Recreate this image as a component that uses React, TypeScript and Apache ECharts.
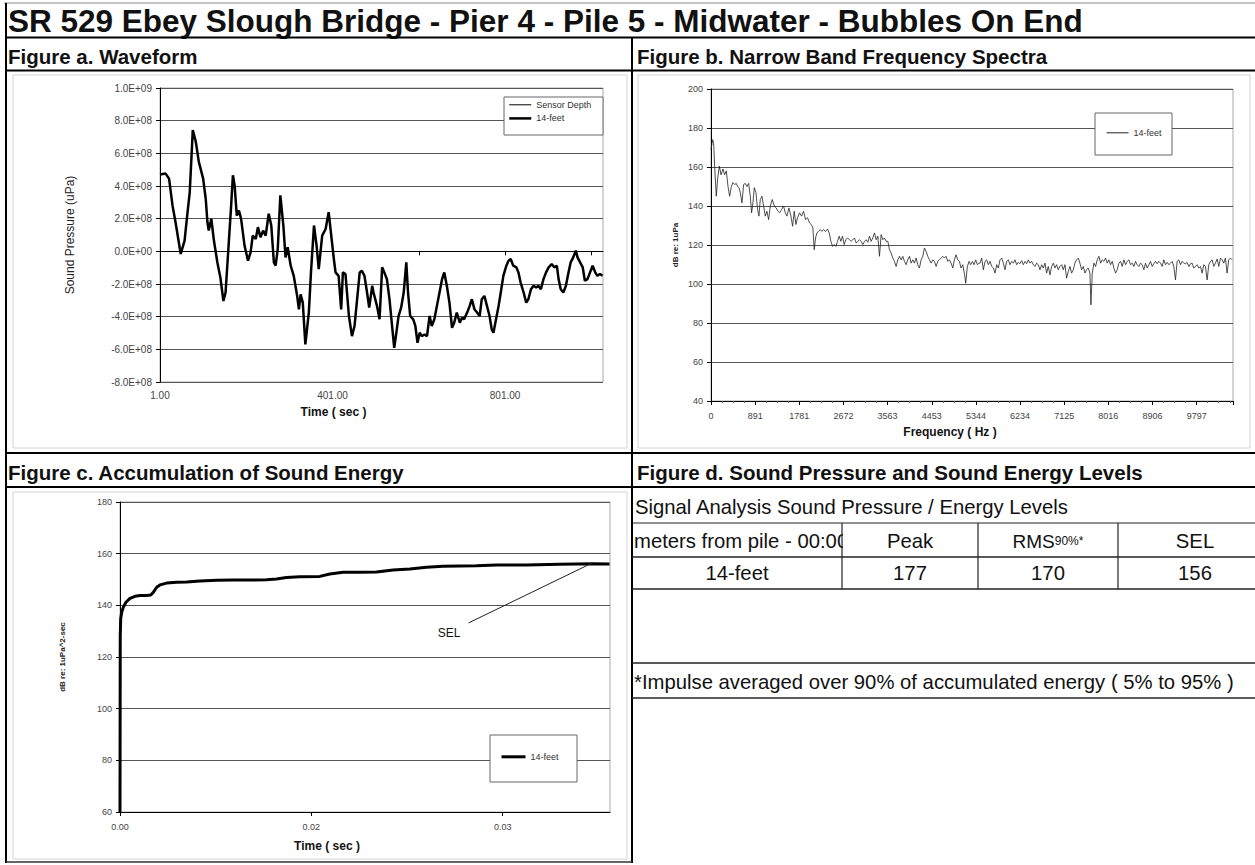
import React, { useEffect, useRef } from 'react';
import * as echarts from 'echarts';

// ---------- Figure a: waveform (sample index, pressure in units of 1E+08 uPa) ----------
const waveSample = [1,14,22,30,37,49,58,64,70,77,84,91,101,107,111,114,120,126,134,141,148,153,158,165,170,174,179,184,189,197,205,211,216,223,228,234,240,246,253,259,265,269,274,280,287,292,297,304,311,319,323,327,332,338,346,351,358,364,369,377,385,392,
  404,408,415,421,425,431,439,446,452,458,464,469,475,481,486,493,496,504,510,516,521,527,533,539,544,549,554,560,566,572,576,581,588,593,598,603,608,614,620,626,631,637,643,649,655,660,666,672,678,683,689,696,701,706,713,719,724,730,736,742,747,753,759,765,770,774,780,786,791,797,804,809,814,820,827,832,837,844,850,855,861,867,873,878,884,890,896,902,909,915,921,925,930,936,942,948,953,959,965,969,975,981,986,992,998,1004,1010,1015,1021,1027];
const waveValueE8 = [4.70,4.76,4.45,2.81,1.78,-0.16,0.66,2.19,3.63,7.42,6.71,5.48,4.45,3.22,1.78,1.27,1.99,0.66,-0.68,-1.60,-3.04,-2.52,-0.47,2.40,4.66,4.04,2.19,2.50,1.99,0.35,-0.57,-0.06,0.96,0.76,1.48,0.86,1.27,0.96,2.30,1.58,-0.68,-0.88,0.14,3.43,1.58,-0.37,0.25,-0.88,-1.50,-2.73,-3.55,-2.63,-3.14,-5.70,-3.75,-1.29,1.58,0.35,-1.09,0.96,1.37,2.40,
  -0.47,-1.29,-1.50,-3.55,-1.29,-1.39,-3.96,-5.19,-4.57,-2.93,-1.29,-1.19,-1.50,-2.52,-3.45,-2.11,-2.52,-3.34,-4.16,-0.98,-1.29,-1.70,-2.93,-4.57,-5.91,-4.98,-3.96,-3.45,-2.52,-0.68,-2.52,-3.96,-4.16,-4.57,-5.60,-4.98,-5.19,-5.09,-5.19,-3.96,-4.57,-4.16,-3.34,-2.52,-1.70,-1.29,-2.11,-3.14,-4.68,-4.37,-3.75,-4.37,-4.06,-4.16,-3.75,-3.34,-2.93,-3.55,-3.75,-3.96,-2.93,-2.73,-3.34,-3.96,-4.78,-4.98,-4.16,-3.34,-2.52,-1.50,-0.88,-0.57,-0.47,-0.88,-0.98,-1.29,-1.91,-2.52,-3.14,-2.93,-2.32,-2.11,-2.22,-2.11,-2.32,-1.70,-1.29,-0.98,-0.78,-0.98,-0.88,-1.70,-2.32,-2.52,-2.11,-1.29,-0.68,-0.37,0.04,-0.37,-0.68,-0.98,-1.80,-1.70,-1.29,-0.88,-1.29,-1.50,-1.39,-1.50];
const E8 = 1e8;

// ---------- Figure b: narrow band spectrum ----------
const specHz = [0,34,54,74,107,134,168,202,242,275,309,343,376,410,443,477,510,537,564,591,625,658,692,725,759,793,819,846,873,907,940,967,994,1028,1061,1095,1128,1162,1196,1236,1276,1317,1350,1384,1424,1464,1498,1532,1572,1612,1646,1679,1713,1746,1787,1827,1867,1908,1948,1988,2022,2055,2082,2109,2136,2170,2203,2237,2270,2311,2351,2385,2418,2452,2485,2519,2552,2586,2620,2653,2687,2720,2754,2794,2828,2861,2895,2929,2962,2996,3029,3063,3097,3130,3164,3197,3231,3264,3298,3332,3365,3399,3432,3466,3500,3533,3567,3600,3634,3668,3701,3735,3768,3802,3835,3869,3903,3936,3970,4004,4037,4071,4104,4138,4171,4205,4239,4272,4306,4339,4373,4407,4440,4474,4507,4541,4574,4608,4642,4675,4709,4742,4776,4809,4843,4877,4910,4944,4977,5011,5044,5078,5111,5138,5172,5206,5239,5273,5306,5340,5374,5407,
  5427,5461,5494,5528,5561,5595,5629,5662,5696,5729,5763,5796,5830,5864,5897,5931,5964,5998,6032,6065,6099,6132,6166,6199,6233,6267,6300,6334,6367,6401,6435,6468,6502,6535,6569,6602,6636,6670,6703,6737,6770,6804,6838,6871,6905,6938,6972,7006,7039,7073,7106,7140,7173,7207,7241,7274,7308,7341,7375,7409,7442,7476,7509,7543,7576,7610,7644,7664,7691,7724,7758,7791,7825,7859,7892,7926,7959,7993,8027,8060,8094,8127,8161,8194,8228,8262,8295,8329,8362,8396,8430,8463,8497,8530,8564,8597,8631,8665,8698,8732,8765,8799,8833,8866,8900,8933,8967,9000,9034,9068,9101,9135,9168,9202,9236,9269,9303,9336,9370,9403,9437,9471,9504,9538,9571,9605,9639,9672,9706,9739,9773,9807,9840,9874,9907,9941,9974,10008,10042,10075,10109,10142,10176,10210,10243,10277,10310,10344,10377,10411,10444,10478,10512];
const specDb = [169,174,172,160,145,154,160.5,156,159,156,158,150,145,150,152,151,151.6,150,149.4,146.8,141.6,151,151.6,150,151.6,145,136.5,141.6,149.4,146.8,138.2,134.8,143.3,145,140,134.8,137.3,133,140,143.3,140,139,137.3,136.5,138.2,140,136.5,134.8,139,134.8,129.6,137.3,130.5,134,136.5,134.8,137.3,133,134,131.3,130.5,128.8,117.6,123.6,126.2,127,127.9,127,127.9,127,128.2,126.2,121.9,119.3,120.2,119.3,121.9,124.5,121.9,124.5,120.2,122.7,123.6,122.7,121.9,122.7,123.6,121,121.9,122.7,121.9,120.2,121.9,122.7,121.4,124.5,121.9,123.6,126.2,122.7,124.5,114.2,125.3,122.7,123.6,121.9,121.9,117.6,115.9,113.3,111.6,109,112.4,114.2,112.4,114.2,111.6,109.9,112.4,114.2,110.7,112.4,110.7,113.3,109.9,108.2,112.4,114.2,118.5,116.7,114.2,112.4,110.7,112.4,111.6,109,111.6,112.4,113.3,114.2,113.3,114.2,111.6,112.4,110.7,108.2,112.4,115,112.4,111.6,108.2,109.9,105.6,100.4,109,111.6,109.9,111.6,109.9,112.4,109.9,110.7,
  110.7,113.3,107.3,111.6,112.4,109.9,111.6,109.0,108.2,105.6,109.9,108.2,112.4,113.3,110.7,107.3,111.6,112.4,109.9,111.6,110.7,112.4,109.9,111.1,110.4,112.0,109.9,111.6,110.4,112.4,110.7,111.6,109.9,109.0,110.7,109.9,107.3,109.9,108.2,110.7,105.6,109.0,104.7,109.0,110.7,108.2,109.9,107.3,109.0,109.9,107.3,109.9,103.0,106.4,109.0,105.6,107.3,110.7,112.4,113.3,110.7,107.3,109.0,105.6,107.3,108.2,105.6,
  89.3,105.6,
  110.7,109.0,112.4,114.2,110.7,112.4,111.6,113.3,110.7,112.4,109.9,111.6,108.2,105.6,107.3,110.7,111.6,109.0,112.4,109.9,111.6,112.4,109.9,110.7,109.0,111.6,109.9,109.0,110.7,109.9,107.3,110.7,108.2,109.9,111.6,109.0,110.4,111.6,110.4,111.6,110.7,109.0,112.4,109.9,111.1,109.9,110.7,111.6,109.0,102.1,111.6,112.4,109.9,111.6,110.7,110.4,111.1,109.0,110.4,110.7,108.2,109.0,109.9,108.2,109.0,105.6,109.9,109.0,102.1,109.9,111.6,112.4,109.0,110.7,112.8,109.0,113.3,112.4,110.7,113.3,105.6,112.4,113.3,112.4];
const freqTickLabels = ['0','891','1781','2672','3563','4453','5344','6234','7125','8016','8906','9797'];
const freqTickStep = 890.65;

// ---------- Figure c: accumulated sound energy ----------
const selTime = [0,0.00002,0.000057,0.000139,0.00027,0.00049,0.00082,0.00123,0.00164,0.00219,0.00252,0.00273,0.00301,0.00328,0.00383,0.00465,0.00547,0.00656,0.00793,0.00929,0.01066,0.01202,0.01284,0.01366,0.01475,0.01639,0.01721,0.01830,0.01967,0.02104,0.02240,0.02377,0.02514,0.02650,0.02924,0.03088,0.03334,0.03607,0.03880,0.04016];
const selDb = [60,128,134.8,137.3,139.3,141.2,142.7,143.5,143.8,143.8,144,145,147,147.9,148.6,148.9,149,149.4,149.7,149.8,149.8,149.9,150.2,150.8,151.1,151.2,152.1,152.8,152.8,152.9,153.7,154.1,154.7,155.1,155.3,155.6,155.6,155.9,156.1,156.0];
const selNoteText = [0.0270, 129.3];
const selNoteFrom = [0.0286, 133.2];
const selNoteTo = [0.0387, 156.3];

// ---------- Figure d: table ----------
const tableHeader = ['meters from pile - 00:00', 'Peak', 'RMS', 'SEL'];
const tableRow = ['14-feet', '177', '170', '156'];
const footNote = '*Impulse averaged over 90% of accumulated energy ( 5% to 95% )';

const FONT = '"Liberation Sans", Arial, Helvetica, sans-serif';

function sci(v: number): string {
  if (Math.abs(v) < 1) return '0.0E+00';
  const [m, e] = v.toExponential(1).split('e');
  const ei = parseInt(e, 10);
  return m + 'E' + (ei < 0 ? '-' : '+') + String(Math.abs(ei)).padStart(2, '0');
}

const hline = (x1: number, x2: number, y: number, w = 2, c = '#000') => ({
  type: 'line', silent: true, z: 7,
  shape: { x1, y1: y, x2, y2: y }, style: { stroke: c, lineWidth: w },
});
const vline = (x: number, y1: number, y2: number, w = 2, c = '#000') => ({
  type: 'line', silent: true, z: 7,
  shape: { x1: x, y1, x2: x, y2 }, style: { stroke: c, lineWidth: w },
});
const txt = (text: string, x: number, y: number, size: number, bold = false, align = 'left', z = 5) => ({
  type: 'text', silent: true, z, x, y,
  style: { text, fontSize: size, fontWeight: bold ? 'bold' : 'normal', fontFamily: FONT, fill: '#111', align, verticalAlign: 'middle' },
});
const box = (x: number, y: number, w: number, h: number, stroke = '#666', fill = '#fff', z = 3) => ({
  type: 'rect', silent: true, z, shape: { x, y, width: w, height: h },
  style: { stroke, fill, lineWidth: 1 },
});

const axisLine = { show: true, lineStyle: { color: '#000', width: 1 } };
const axisTick = { show: true, length: 4, lineStyle: { color: '#000', width: 1 } };
const labelStyle = (size: number) => ({ fontSize: size, color: '#444', fontFamily: FONT });
const split = { show: true, lineStyle: { color: '#555', width: 1 } };
const legendCommon = {
  orient: 'vertical', padding: 0, selectedMode: false,
  itemStyle: { opacity: 0 },
  formatter: (n: string) => n.split('|')[1],
  textStyle: { fontSize: 9, color: '#333', fontFamily: FONT },
};

export default function App() {
  const ref = useRef<HTMLDivElement>(null);
  useEffect(() => {
    const chart = echarts.init(ref.current!, undefined, { renderer: 'svg', width: 1255, height: 865 });
    const option: any = {
      animation: false,
      backgroundColor: '#fff',
      textStyle: { fontFamily: FONT },
      grid: [
        { left: 160, top: 88, width: 443, height: 294, show: true, borderColor: '#aaa', borderWidth: 1, backgroundColor: '#fff', outerBoundsMode: 'none' },
        { left: 711, top: 89, width: 522, height: 312, show: true, borderColor: '#aaa', borderWidth: 1, backgroundColor: '#fff', outerBoundsMode: 'none' },
        { left: 120, top: 502, width: 490, height: 310, show: true, borderColor: '#aaa', borderWidth: 1, backgroundColor: '#fff', outerBoundsMode: 'none' },
      ],
      xAxis: [
        {
          type: 'value', gridIndex: 0, min: 1, max: 1028, interval: 200,
          axisLine, axisTick, splitLine: { show: false },
          axisLabel: { ...labelStyle(10), margin: 8, showMaxLabel: false,
            formatter: (v: number) => (Math.abs((v - 1) % 400) < 1e-6 ? v.toFixed(2) : '') },
          name: 'Time ( sec )', nameLocation: 'middle', nameGap: 24,
          nameTextStyle: { fontSize: 12, fontWeight: 'bold', color: '#111', padding: [0, 96, 0, 0] },
        },
        {
          type: 'value', gridIndex: 1, min: 0, max: 10530, interval: freqTickStep,
          axisLine, axisTick, splitLine: { show: false },
          minorTick: { show: true, splitNumber: 4, length: 2, lineStyle: { color: '#555' } },
          axisLabel: { ...labelStyle(9), margin: 10, showMaxLabel: false,
            formatter: (v: number) => {
              const i = Math.round(v / freqTickStep);
              return Math.abs(v - i * freqTickStep) < 1 && freqTickLabels[i] !== undefined ? freqTickLabels[i] : '';
            } },
          name: 'Frequency ( Hz )', nameLocation: 'middle', nameGap: 25,
          nameTextStyle: { fontSize: 12, fontWeight: 'bold', color: '#111', padding: [0, 44, 0, 0] },
        },
        {
          type: 'value', gridIndex: 2, min: 0, max: 0.0402, interval: 0.0157,
          axisLine, axisTick, splitLine: { show: false },
          axisLabel: { ...labelStyle(9), margin: 10, showMaxLabel: false,
            formatter: (v: number) => v.toFixed(2) },
          name: 'Time ( sec )', nameLocation: 'middle', nameGap: 28,
          nameTextStyle: { fontSize: 12, fontWeight: 'bold', color: '#111', padding: [0, 76, 0, 0] },
        },
      ],
      yAxis: [
        {
          type: 'value', gridIndex: 0, min: -8e8, max: 1e9, interval: 2e8,
          axisLine, axisTick, splitLine: split,
          axisLabel: { ...labelStyle(10), margin: 8, formatter: sci },
          name: 'Sound Pressure (uPa)', nameLocation: 'middle', nameGap: 84,
          nameTextStyle: { fontSize: 12, color: '#222' },
        },
        {
          type: 'value', gridIndex: 1, min: 40, max: 200, interval: 20,
          axisLine, axisTick, splitLine: split,
          axisLabel: { ...labelStyle(9), margin: 8 },
          name: 'dB re: 1uPa', nameLocation: 'middle', nameGap: 32,
          nameTextStyle: { fontSize: 8, fontWeight: 'bold', color: '#222' },
        },
        {
          type: 'value', gridIndex: 2, min: 60, max: 180, interval: 20,
          axisLine, axisTick, splitLine: split,
          axisLabel: { ...labelStyle(9), margin: 8 },
          name: 'dB re: 1uPa^2-sec', nameLocation: 'middle', nameGap: 54,
          nameTextStyle: { fontSize: 8, fontWeight: 'bold', color: '#222' },
        },
      ],
      legend: [
        { ...legendCommon, left: 508, top: 100, itemGap: 4, itemWidth: 22, itemHeight: 12,
          data: [
            { name: 'a|Sensor Depth', lineStyle: { width: 1, color: '#000' } },
            { name: 'a|14-feet', lineStyle: { width: 2.5, color: '#000' } },
          ] },
        { ...legendCommon, left: 1106, top: 128, itemWidth: 22, itemHeight: 12,
          data: [{ name: 'b|14-feet', lineStyle: { width: 1, color: '#222' } }] },
        { ...legendCommon, left: 500, top: 752, itemWidth: 24, itemHeight: 12,
          data: [{ name: 'c|14-feet', lineStyle: { width: 3, color: '#000' } }] },
      ],
      series: [
        {
          name: 'a|Sensor Depth', type: 'line', xAxisIndex: 0, yAxisIndex: 0, symbol: 'none',
          lineStyle: { color: '#000', width: 1 }, itemStyle: { color: '#000' }, data: [],
        },
        {
          name: 'a|14-feet', type: 'line', xAxisIndex: 0, yAxisIndex: 0, symbol: 'none',
          lineStyle: { color: '#000', width: 2.5 }, itemStyle: { color: '#000' },
          data: waveSample.map((s, i) => [s, waveValueE8[i] * E8]),
        },
        {
          name: 'b|14-feet', type: 'line', xAxisIndex: 1, yAxisIndex: 1, symbol: 'none',
          lineStyle: { color: '#222', width: 0.8 }, itemStyle: { color: '#222' },
          data: specHz.map((f, i) => [f, specDb[i]]),
        },
        {
          name: 'c|14-feet', type: 'line', xAxisIndex: 2, yAxisIndex: 2, symbol: 'none',
          lineStyle: { color: '#000', width: 3 }, itemStyle: { color: '#000' },
          data: selTime.map((t, i) => [t, selDb[i]]),
          markLine: {
            silent: true, symbol: 'none', animation: false,
            lineStyle: { color: '#222', width: 1, type: 'solid' },
            label: { show: false },
            data: [[{ coord: selNoteFrom }, { coord: selNoteTo }]],
          },
          markPoint: {
            silent: true, symbol: 'circle', symbolSize: 0,
            label: { show: true, formatter: 'SEL', fontSize: 12, color: '#111', position: 'inside' },
            data: [{ coord: selNoteText }],
          },
        },
      ],
      graphic: [
        // legend boxes
        box(504, 97, 99, 38),
        box(1095, 113, 77, 42),
        box(490, 735, 87, 47),
        // chart frames (light grey)
        box(13, 75, 614, 373, '#d4d4d4', 'none', 1),
        box(638, 75, 612, 373, '#d4d4d4', 'none', 1),
        box(13, 492, 614, 367, '#d4d4d4', 'none', 1),
        // titles
        txt('SR 529 Ebey Slough Bridge - Pier 4 - Pile 5 - Midwater - Bubbles On End', 8, 21, 31.5, true),
        txt('Figure a. Waveform', 8, 56, 20.5, true),
        txt('Figure b. Narrow Band Frequency Spectra', 637, 56, 20.5, true),
        txt('Figure c. Accumulation of Sound Energy', 8, 472, 20.5, true),
        txt('Figure d. Sound Pressure and Sound Energy Levels', 637, 472, 20.5, true),
        // table
        txt('Signal Analysis Sound Pressure / Energy Levels', 635, 507, 20.3),
        txt(tableHeader[0], 634, 541, 20.3),
        box(843, 526, 12, 30, 'none', '#fff', 6),
        txt(tableHeader[1], 910, 541, 20.3, false, 'center'),
        {
          type: 'text', silent: true, z: 5, x: 1048, y: 541,
          style: {
            text: '{a|' + tableHeader[2] + '}{b|90%*}', align: 'center', verticalAlign: 'middle', fill: '#111',
            fontFamily: FONT,
            rich: { a: { fontSize: 19, fontFamily: FONT, fill: '#111' }, b: { fontSize: 12, fontFamily: FONT, fill: '#111' } },
          },
        },
        txt(tableHeader[3], 1195, 541, 20.3, false, 'center'),
        txt(tableRow[0], 737, 573, 20.3, false, 'center'),
        txt(tableRow[1], 910, 573, 20.3, false, 'center'),
        txt(tableRow[2], 1048, 573, 20.3, false, 'center'),
        txt(tableRow[3], 1195, 573, 20.3, false, 'center'),
        txt(footNote, 634, 682, 20.3),
        // frame lines
        hline(4, 1255, 3, 1, '#888'),
        vline(6, 3, 863, 2),
        hline(6, 1255, 37.5, 2),
        hline(6, 1255, 70.5, 2),
        vline(632, 37, 863, 2),
        hline(6, 1255, 453, 2),
        hline(6, 1255, 487, 2),
        hline(6, 632, 862, 1.5, '#333'),
        hline(632, 1255, 523, 1.2, '#222'),
        hline(632, 1255, 557, 1.5, '#222'),
        hline(632, 1255, 589, 1.5, '#222'),
        vline(842, 523, 589, 1.2, '#222'),
        vline(978, 523, 589, 1.2, '#222'),
        vline(1118, 523, 589, 1.2, '#222'),
        hline(632, 1255, 663, 1.5, '#222'),
        hline(632, 1255, 698, 1.5, '#222'),
      ],
    };
    chart.setOption(option);
    return () => chart.dispose();
  }, []);
  return (
    <div
      ref={ref}
      style={{ position: 'absolute', left: 0, top: 0, width: 1255, height: 865, background: '#fff' }}
    />
  );
}
